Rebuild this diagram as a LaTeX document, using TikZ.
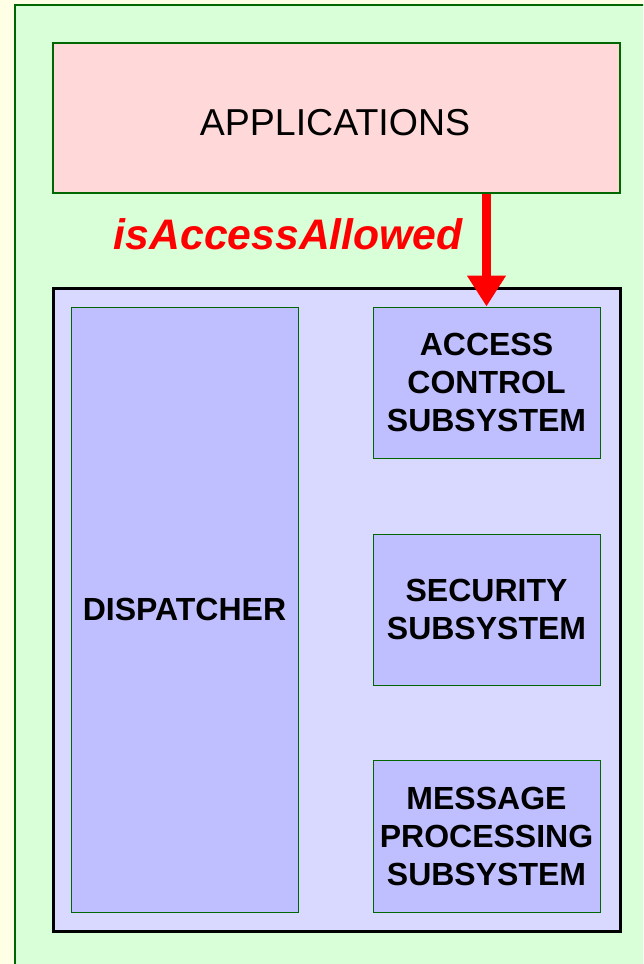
\documentclass[tikz,border=0pt]{standalone}
\usepackage{fontspec}
\setmainfont{Liberation Sans}
\usetikzlibrary{arrows.meta}
\definecolor{bgyellow}{HTML}{FFFFE6}
\definecolor{bggreen}{HTML}{D9FFD9}
\definecolor{apppink}{HTML}{FFD9D9}
\definecolor{lav}{HTML}{D9D9FF}
\definecolor{subblue}{HTML}{BFBFFF}
\definecolor{dgreen}{HTML}{006600}
\tikzset{
  subbox/.style={draw=dgreen, line width=1pt, fill=subblue, inner sep=0pt,
    font=\bfseries\fontsize{32}{38}\selectfont, align=center},
}
\begin{document}
\begin{tikzpicture}[x=1pt,y=-1pt]
\useasboundingbox (0,0) rectangle (643,964);
\fill[bgyellow] (0,0) rectangle (643,964);
\begin{scope}
\clip (0,0) rectangle (643,964);
\draw[dgreen, fill=bggreen, line width=2pt] (15,5) rectangle (680,1000);
\end{scope}
\node[draw=dgreen, fill=apppink, line width=2pt, minimum width=567pt, minimum height=150pt] (apps) at (336.5,118) {};
\node[font=\fontsize{37.5}{42}\selectfont, anchor=base] (appstext) at (335,135) {APPLICATIONS};
\node[draw=black, fill=lav, line width=3pt, minimum width=567pt, minimum height=643pt] (cont) at (336.5,609.5) {};
\node[subbox, minimum width=227pt, minimum height=605pt] (disp) at (184.5,609.5) {DISPATCHER};
\node[subbox, minimum width=227pt, minimum height=151pt] (acc) at (486.5,382.5) {ACCESS\\CONTROL\\SUBSYSTEM};
\node[subbox, minimum width=227pt, minimum height=151pt] (sec) at (486.5,609.5) {SECURITY\\SUBSYSTEM};
\node[subbox, minimum width=227pt, minimum height=152pt] (msg) at (486.5,836) {MESSAGE\\PROCESSING\\SUBSYSTEM};
\node[text=red, font=\bfseries\itshape\fontsize{42.7}{48}\selectfont, anchor=base east, inner sep=0pt] (lbl) at (463,249) {isAccessAllowed};
\draw[red, line width=9pt, -{Triangle[length=31pt,width=37pt]}] (acc.north |- apps.south) -- (acc.north);
\end{tikzpicture}
\end{document}
